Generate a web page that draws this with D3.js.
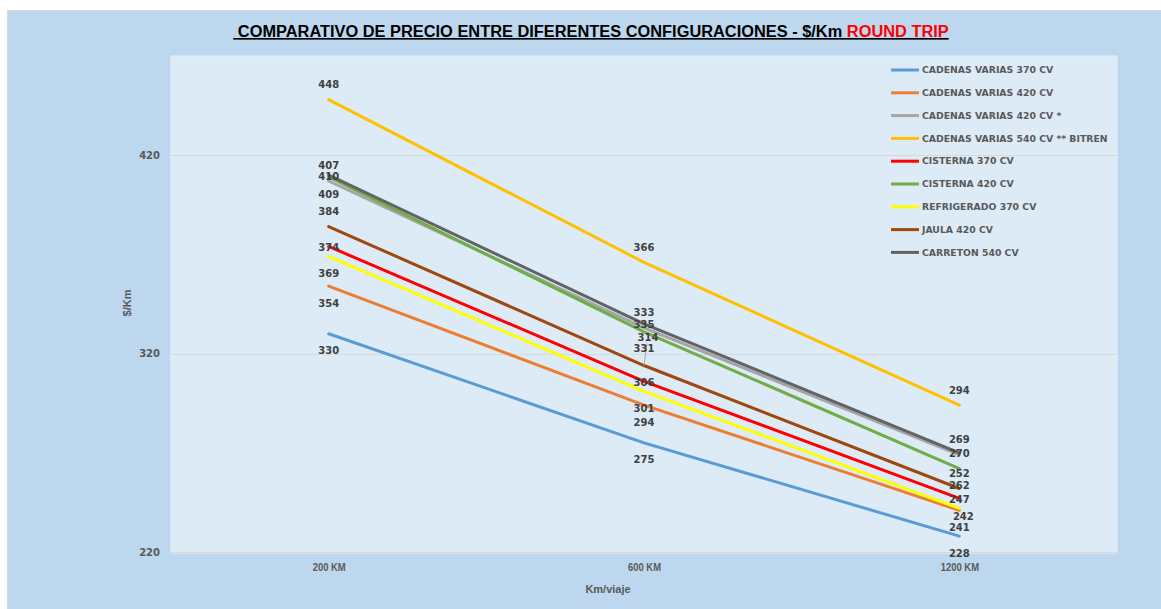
<!DOCTYPE html>
<html>
<head>
<meta charset="utf-8">
<script src="https://cdn.jsdelivr.net/npm/d3@7"></script>
<style>
body{margin:0;background:#fff;}
svg{display:block;}
</style>
</head>
<body>
<svg id="chart" width="1161" height="609"></svg>
<script>
// data
var categories = ["200 KM", "600 KM", "1200 KM"];
var seriesNames = ["CADENAS VARIAS 370 CV", "CADENAS VARIAS 420 CV", "CADENAS VARIAS 420 CV *",
  "CADENAS VARIAS 540 CV ** BITREN", "CISTERNA 370 CV", "CISTERNA 420 CV",
  "REFRIGERADO 370 CV", "JAULA 420 CV", "CARRETON 540 CV"];
var cadenas370 = [330, 275, 228];
var cadenas420 = [354, 294, 241];
var cadenas420b = [407, 333, 269];
var cadenas540 = [448, 366, 294];
var cisterna370 = [374, 306, 247];
var cisterna420 = [409, 331, 262];
var refrigerado370 = [369, 301, 242];
var jaula420 = [384, 314, 252];
var carreton540 = [410, 335, 270];
var seriesValues = [cadenas370, cadenas420, cadenas420b, cadenas540, cisterna370,
  cisterna420, refrigerado370, jaula420, carreton540];
var yTicks = [220, 320, 420];

var seriesColors = ["#5B9BD5", "#ED7D31", "#A5A5A5", "#FFC000", "#FF0000",
  "#70AD47", "#FFFF00", "#9E480E", "#636363"];
// where the data label sits compared to the point (like excel did it)
var labelPos = ["below", "below", "above", "above", "center", "below", "below", "above", "center"];

var svg = d3.select("#chart");
var width = +svg.attr("width");
var height = +svg.attr("height");

var plot = {left: 171, top: 56, right: 1117, bottom: 553};
var labelFont = "'DejaVu Sans', Verdana, sans-serif";
var calFont = "'Liberation Sans', Arial, sans-serif";

// chart background
svg.append("rect").attr("x", 7.5).attr("y", 10.5).attr("width", width).attr("height", height)
  .style("fill", "#BDD7EE").style("stroke", "#D9D9D9");

svg.append("rect").attr("x", plot.left).attr("y", plot.top)
  .attr("width", plot.right - plot.left).attr("height", plot.bottom - plot.top)
  .style("fill", "#DDEBF7").style("stroke", "#E6EFF9");

var x = d3.scalePoint().domain(categories).range([plot.left, plot.right]).padding(0.5);
var y = d3.scaleLinear().domain([220, 470]).range([plot.bottom - 1, plot.top]);

// gridlines
svg.append("g").selectAll("line").data(yTicks).enter().append("line")
  .attr("x1", plot.left).attr("x2", plot.right)
  .attr("y1", function(d){return Math.round(y(d)) + 0.5;})
  .attr("y2", function(d){return Math.round(y(d)) + 0.5;})
  .style("stroke", "#D9D9D9").style("stroke-width", 1);

// y axis labels
var yAxis = svg.append("g").attr("transform", "translate(" + (plot.left - 9) + ",0)")
  .call(d3.axisLeft(y).tickValues(yTicks).tickSize(0).tickPadding(2));
yAxis.select(".domain").remove();
yAxis.selectAll("text").style("font-family", labelFont).style("font-weight", "bold")
  .style("font-size", "10px").style("fill", "#595959");

// x axis labels (squeezed a bit, calibri is narrow)
var xAxis = svg.append("g").attr("transform", "translate(0," + (plot.bottom + 9) + ")")
  .call(d3.axisBottom(x).tickSize(0).tickPadding(0));
xAxis.select(".domain").remove();
xAxis.selectAll(".tick text").style("font-family", calFont).style("font-weight", "bold")
  .style("font-size", "11px").style("fill", "#595959")
  .attr("dy", "0.8em")
  .attr("transform", "scale(0.86,1)");

// axis titles
svg.append("text").attr("x", 608).attr("y", 593).attr("text-anchor", "middle")
  .style("font-family", calFont).style("font-weight", "bold").style("font-size", "11px")
  .style("fill", "#595959").text("Km/viaje");
svg.append("text").attr("transform", "translate(131,303) rotate(-90)").attr("text-anchor", "middle")
  .style("font-family", calFont).style("font-weight", "bold").style("font-size", "11px")
  .style("fill", "#595959").text("$/Km");

// lines
var line = d3.line().x(function(d, i){return x(categories[i]);}).y(function(d){return y(d);});
svg.append("g").selectAll("path").data(seriesValues).enter().append("path")
  .attr("d", line)
  .style("fill", "none")
  .style("stroke", function(d, i){return seriesColors[i];})
  .style("stroke-width", 3)
  .style("stroke-linecap", "round");

// data labels
var labelData = [];
seriesValues.forEach(function(vals, s){
  vals.forEach(function(v, i){
    var dy = labelPos[s] == "above" ? -15 : (labelPos[s] == "below" ? 17 : 1);
    var dx = 0;
    // jaula at 600 got pushed up with a leader line, refrigerado at 1200 a bit squeezed
    if (s == 7 && i == 1) { dy = -28; dx = 4; }
    if (s == 6 && i == 2) { dy = 8; dx = 4; }
    labelData.push({v: v, px: x(categories[i]), py: y(v), dx: dx, dy: dy, s: s, i: i});
  });
});

// leader line for the one label that moved
svg.append("g").selectAll("line").data(labelData.filter(function(d){return d.dy == -28;}))
  .enter().append("line")
  .attr("x1", function(d){return d.px + d.dx - 1;})
  .attr("y1", function(d){return d.py + d.dy + 6;})
  .attr("x2", function(d){return d.px;})
  .attr("y2", function(d){return d.py;})
  .style("stroke", "#A6A6A6").style("stroke-width", 1);

svg.append("g").selectAll("text").data(labelData).enter().append("text")
  .attr("x", function(d){return d.px + d.dx;})
  .attr("y", function(d){return d.py + d.dy;})
  .attr("dy", "0.35em")
  .attr("text-anchor", "middle")
  .style("font-family", labelFont).style("font-weight", "bold").style("font-size", "10px")
  .style("fill", "#404040")
  .text(function(d){return d.v;});

// legend
var legend = svg.append("g").attr("transform", "translate(891,70)");
var rows = legend.selectAll("g").data(seriesNames).enter().append("g")
  .attr("transform", function(d, i){return "translate(0," + (i * 22.8) + ")";});
rows.append("line").attr("x1", 0).attr("x2", 28).attr("y1", 0).attr("y2", 0)
  .style("stroke", function(d, i){return seriesColors[i];}).style("stroke-width", 3);
rows.append("text").attr("x", 31).attr("dy", "0.35em")
  .style("font-family", labelFont).style("font-weight", "bold").style("font-size", "9.3px")
  .style("fill", "#595959").text(function(d){return d;});

// title
var title = svg.append("text").attr("x", 591).attr("y", 37).attr("text-anchor", "middle")
  .style("font-family", calFont).style("font-weight", "bold").style("font-size", "15px")
  .style("white-space", "pre").style("text-decoration", "underline");
title.append("tspan").style("fill", "#000").text(" COMPARATIVO DE PRECIO ENTRE DIFERENTES CONFIGURACIONES - $/Km ");
title.append("tspan").style("fill", "#FF0000").text("ROUND TRIP");
// squeeze it to the width it has in the picture
var tw = title.node().getComputedTextLength();
title.style("font-size", (15 * 716 / tw) + "px");
</script>
</body>
</html>
